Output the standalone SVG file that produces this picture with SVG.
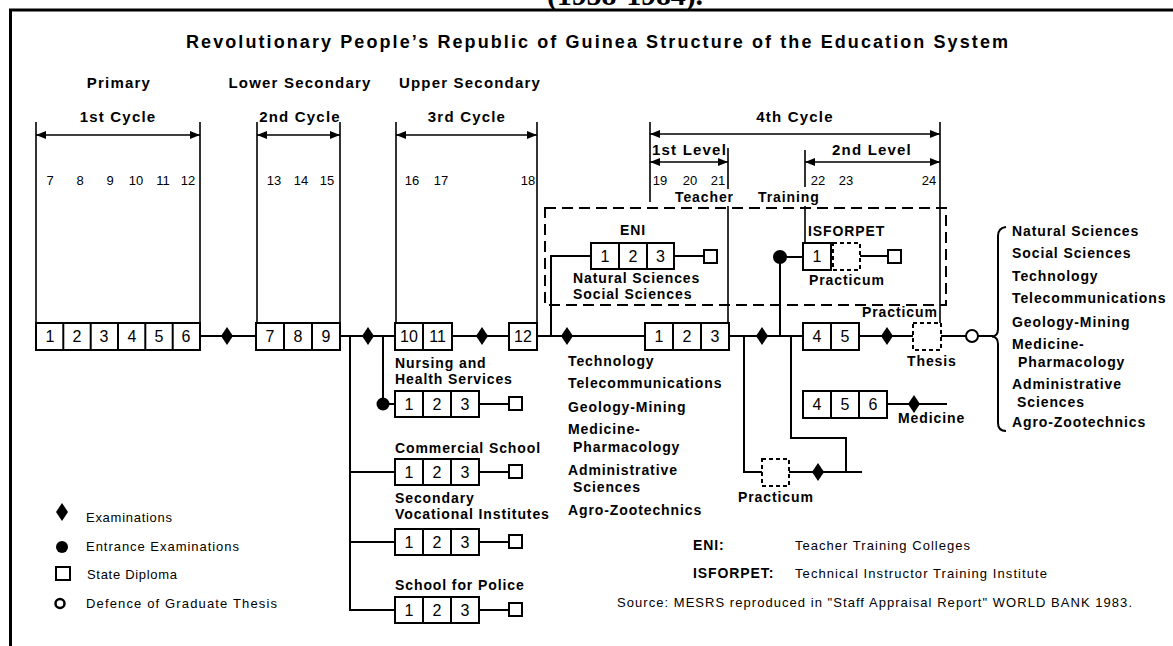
<svg xmlns="http://www.w3.org/2000/svg" width="1173" height="646" viewBox="0 0 1173 646">
<style>
text{font-family:"Liberation Sans",Arial,sans-serif;fill:#000}
.h{font-size:15px;font-weight:bold;letter-spacing:1.2px}
.n{font-size:13px}
.l{font-size:14px;font-weight:bold;letter-spacing:0.9px}
.g{font-size:13px;letter-spacing:1px}
.d{font-size:16px;text-anchor:middle}
.c{fill:#fff;stroke:#000;stroke-width:2}
.dc{fill:#fff;stroke:#000;stroke-width:2;stroke-dasharray:4 3}
.ln{fill:none;stroke:#000;stroke-width:2}
.th{fill:none;stroke:#000;stroke-width:1.6}
</style>
<defs>
<marker id="ah" viewBox="0 0 10 8" refX="10" refY="4" markerWidth="10" markerHeight="8" markerUnits="userSpaceOnUse" orient="auto-start-reverse"><path d="M0,0 L10,4 L0,8 Z" fill="#000"/></marker>
<path id="dia" d="M0,-9 L6,0 L0,9 L-6,0 Z" fill="#000"/>
</defs>
<rect width="1173" height="646" fill="#fff"/>
<text x="547" y="5" style="font-family:'Liberation Serif',serif;font-size:30px;font-weight:bold" textLength="156">(1958-1984).</text>
<path d="M10.5,646 V10 H1173" fill="none" stroke="#000" stroke-width="3"/>
<text x="186" y="48" style="font-size:18px;font-weight:bold" textLength="822">Revolutionary People’s Republic of Guinea Structure of the Education System</text>

<g id="headers">
<text class="h" x="119" y="88" text-anchor="middle">Primary</text>
<text class="h" x="300" y="88" text-anchor="middle">Lower Secondary</text>
<text class="h" x="470" y="88" text-anchor="middle">Upper Secondary</text>
<text class="h" x="118" y="122" text-anchor="middle">1st Cycle</text>
<text class="h" x="300" y="122" text-anchor="middle">2nd Cycle</text>
<text class="h" x="467" y="122" text-anchor="middle">3rd Cycle</text>
<text class="h" x="795" y="122" text-anchor="middle">4th Cycle</text>
<text class="h" x="652" y="155" letter-spacing="0.6">1st Level</text>
<text class="h" x="832" y="155">2nd Level</text>
</g>
<g id="ages" class="n" text-anchor="middle">
<text class="n" x="50" y="185" text-anchor="middle">7</text>
<text class="n" x="80" y="185" text-anchor="middle">8</text>
<text class="n" x="110" y="185" text-anchor="middle">9</text>
<text class="n" x="136" y="185" text-anchor="middle">10</text>
<text class="n" x="163" y="185" text-anchor="middle">11</text>
<text class="n" x="188" y="185" text-anchor="middle">12</text>
<text class="n" x="274" y="185" text-anchor="middle">13</text>
<text class="n" x="301" y="185" text-anchor="middle">14</text>
<text class="n" x="327" y="185" text-anchor="middle">15</text>
<text class="n" x="412" y="185" text-anchor="middle">16</text>
<text class="n" x="441" y="185" text-anchor="middle">17</text>
<text class="n" x="528" y="185" text-anchor="middle">18</text>
<text class="n" x="660" y="185" text-anchor="middle">19</text>
<text class="n" x="690" y="185" text-anchor="middle">20</text>
<text class="n" x="718" y="185" text-anchor="middle">21</text>
<text class="n" x="818" y="185" text-anchor="middle">22</text>
<text class="n" x="846" y="185" text-anchor="middle">23</text>
<text class="n" x="929" y="185" text-anchor="middle">24</text>
</g>

<g id="connectors">
<path class="th" d="M36,122 V323 M200,122 V323 M257,122 V323 M340,122 V323 M396,122 V323 M537,122 V323 M650,122 V202 M940,122 V323 M728,148 V189 M728,206 V323 M805,150 V187 M805,206 V243"/>
<path class="th" d="M36,135 H200" marker-start="url(#ah)" marker-end="url(#ah)"/>
<path class="th" d="M257,135 H340" marker-start="url(#ah)" marker-end="url(#ah)"/>
<path class="th" d="M396,135 H537" marker-start="url(#ah)" marker-end="url(#ah)"/>
<path class="th" d="M650,134 H940" marker-start="url(#ah)" marker-end="url(#ah)"/>
<path class="th" d="M650,162 H728" marker-start="url(#ah)" marker-end="url(#ah)"/>
<path class="th" d="M805,162 H940" marker-start="url(#ah)" marker-end="url(#ah)"/>
<rect x="545" y="208" width="401" height="97" fill="none" stroke="#000" stroke-width="2" stroke-dasharray="11 6"/>
<path class="ln" d="M200,336 H256 M340,336 H395 M452,336 H509 M537,336 H645 M729,336 H803 M859,336 H913 M941,336 H966 M978,336 H993"/>
<path class="ln" d="M350,336 V610 H395 M350,472 H395 M350,542 H395"/>
<path class="ln" d="M383,336 V404 H395 M479,404 H509 M479,472 H509 M479,542 H509 M479,610 H509"/>
<path class="ln" d="M551,336 V256 H591 M674,256 H704"/>
<path class="ln" d="M780,336 V257 H803 M860,256 H888"/>
<path class="ln" d="M744,336 V472 H762 M789,472 H862 M791,336 V438 H846 V472 M887,404 H947"/>
<path class="ln" d="M1006,227 Q998,228 998,236 V329 Q998,336 992,336.5 Q998,337 998,344 V423 Q998,431 1006,431"/>
</g>

<g id="markers">
<use href="#dia" x="227" y="336"/>
<use href="#dia" x="368" y="336"/>
<use href="#dia" x="482" y="336"/>
<use href="#dia" x="567" y="336"/>
<use href="#dia" x="762" y="336"/>
<use href="#dia" x="887" y="336"/>
<use href="#dia" x="914" y="404"/>
<use href="#dia" x="818" y="472"/>
<circle cx="383" cy="404" r="6.5" fill="#000"/>
<circle cx="780" cy="257" r="7" fill="#000"/>
<circle cx="972" cy="336" r="6" fill="#fff" stroke="#000" stroke-width="2"/>
</g>

<g id="primary">
<rect class="c" x="36" y="323" width="164" height="27"/>
<path class="ln" d="M63.3,323 V350 M90.7,323 V350 M118,323 V350 M145.3,323 V350 M172.7,323 V350"/>
<text class="d" x="50" y="342">1</text><text class="d" x="77" y="342">2</text><text class="d" x="104" y="342">3</text><text class="d" x="132" y="342">4</text><text class="d" x="159" y="342">5</text><text class="d" x="186" y="342">6</text>
</g>
<g id="lower-secondary">
<rect class="c" x="256" y="323" width="84" height="27"/>
<path class="ln" d="M284,323 V350 M312,323 V350"/>
<text class="d" x="270" y="342">7</text><text class="d" x="298" y="342">8</text><text class="d" x="326" y="342">9</text>
</g>
<g id="upper-secondary">
<rect class="c" x="395" y="323" width="57" height="27"/>
<path class="ln" d="M423,323 V350"/>
<text class="d" x="409" y="342">10</text><text class="d" x="437.5" y="342">11</text>
<rect class="c" x="509" y="323" width="28" height="27"/>
<text class="d" x="523" y="342">12</text>
</g>
<g id="level1">
<rect class="c" x="645" y="323" width="84" height="27"/>
<path class="ln" d="M673,323 V350 M701,323 V350"/>
<text class="d" x="659" y="342">1</text><text class="d" x="687" y="342">2</text><text class="d" x="715" y="342">3</text>
<text class="l" x="568" y="366">Technology</text>
<text class="l" x="568" y="388">Telecommunications</text>
<text class="l" x="568" y="412">Geology-Mining</text>
<text class="l" x="568" y="434">Medicine-</text>
<text class="l" x="573" y="452">Pharmacology</text>
<text class="l" x="568" y="475">Administrative</text>
<text class="l" x="573" y="492">Sciences</text>
<text class="l" x="568" y="515">Agro-Zootechnics</text>
</g>
<g id="level2">
<rect class="c" x="803" y="323" width="56" height="27"/>
<path class="ln" d="M831,323 V350"/>
<text class="d" x="817" y="342">4</text><text class="d" x="845" y="342">5</text>
<rect class="dc" x="913" y="323" width="28" height="27"/>
<text class="l" x="862" y="317">Practicum</text>
<text class="l" x="907" y="366">Thesis</text>
</g>
<g id="medicine">
<rect class="c" x="803" y="391" width="84" height="27"/>
<path class="ln" d="M831,391 V418 M859,391 V418"/>
<text class="d" x="817" y="410">4</text><text class="d" x="845" y="410">5</text><text class="d" x="873" y="410">6</text>
<text class="l" x="898" y="423">Medicine</text>
</g>
<g id="practicum-bottom">
<rect class="dc" x="762" y="459" width="27" height="27"/>
<text class="l" x="738" y="502">Practicum</text>
</g>
<g id="eni">
<text class="l" x="633" y="235" text-anchor="middle">ENI</text>
<rect class="c" x="591" y="243" width="83" height="26"/>
<path class="ln" d="M619,243 V269 M647,243 V269"/>
<text class="d" x="605" y="262">1</text><text class="d" x="633" y="262">2</text><text class="d" x="660.5" y="262">3</text>
<rect class="c" x="704" y="250" width="13" height="13"/>
<text class="l" x="573" y="283">Natural Sciences</text>
<text class="l" x="573" y="299">Social Sciences</text>
<text class="l" x="675" y="202">Teacher</text>
<text class="l" x="758" y="202">Training</text>
</g>
<g id="isforpet">
<text class="l" x="808" y="236">ISFORPET</text>
<rect class="c" x="803" y="243" width="28" height="27"/>
<text class="d" x="817" y="262">1</text>
<rect class="dc" x="833" y="243" width="27" height="27"/>
<rect class="c" x="888" y="250" width="13" height="13"/>
<text class="l" x="809" y="285">Practicum</text>
</g>
<g id="nursing">
<text class="l" x="395" y="368">Nursing and</text>
<text class="l" x="395" y="384">Health Services</text>
<rect class="c" x="395" y="391" width="84" height="26"/>
<path class="ln" d="M423,391 V417 M451,391 V417"/>
<text class="d" x="409" y="410">1</text><text class="d" x="437" y="410">2</text><text class="d" x="465" y="410">3</text>
<rect class="c" x="509" y="397" width="13" height="13"/>
</g>
<g id="commercial">
<text class="l" x="395" y="453">Commercial School</text>
<rect class="c" x="395" y="459" width="84" height="26"/>
<path class="ln" d="M423,459 V485 M451,459 V485"/>
<text class="d" x="409" y="478">1</text><text class="d" x="437" y="478">2</text><text class="d" x="465" y="478">3</text>
<rect class="c" x="509" y="465" width="13" height="13"/>
</g>
<g id="vocational">
<text class="l" x="395" y="503">Secondary</text>
<text class="l" x="395" y="519">Vocational Institutes</text>
<rect class="c" x="395" y="529" width="84" height="26"/>
<path class="ln" d="M423,529 V555 M451,529 V555"/>
<text class="d" x="409" y="548">1</text><text class="d" x="437" y="548">2</text><text class="d" x="465" y="548">3</text>
<rect class="c" x="509" y="535" width="13" height="13"/>
</g>
<g id="police">
<text class="l" x="395" y="590">School for Police</text>
<rect class="c" x="395" y="597" width="84" height="26"/>
<path class="ln" d="M423,597 V623 M451,597 V623"/>
<text class="d" x="409" y="616">1</text><text class="d" x="437" y="616">2</text><text class="d" x="465" y="616">3</text>
<rect class="c" x="509" y="603" width="13" height="13"/>
</g>
<g id="fields">
<text class="l" x="1012" y="236">Natural Sciences</text>
<text class="l" x="1012" y="258">Social Sciences</text>
<text class="l" x="1012" y="281">Technology</text>
<text class="l" x="1012" y="303">Telecommunications</text>
<text class="l" x="1012" y="327">Geology-Mining</text>
<text class="l" x="1012" y="349">Medicine-</text>
<text class="l" x="1018" y="367">Pharmacology</text>
<text class="l" x="1012" y="389">Administrative</text>
<text class="l" x="1017" y="407">Sciences</text>
<text class="l" x="1012" y="427">Agro-Zootechnics</text>
</g>
<g id="legend">
<use href="#dia" x="62" y="512"/>
<text class="g" x="86" y="522" textLength="87">Examinations</text>
<circle cx="62" cy="547" r="6" fill="#000"/>
<text class="g" x="86" y="551" textLength="154">Entrance Examinations</text>
<rect x="56" y="567" width="14" height="13" fill="#fff" stroke="#000" stroke-width="2"/>
<text class="g" x="87" y="579" textLength="91">State Diploma</text>
<circle cx="60" cy="603.5" r="4.5" fill="none" stroke="#000" stroke-width="2.5"/>
<text class="g" x="86" y="608" textLength="192">Defence of Graduate Thesis</text>
</g>
<g id="abbreviations">
<text class="l" x="693" y="550">ENI:</text>
<text class="g" x="795" y="550" textLength="176">Teacher Training Colleges</text>
<text class="l" x="693" y="578">ISFORPET:</text>
<text class="g" x="795" y="578" textLength="253">Technical Instructor Training Institute</text>
<text class="g" x="617" y="607" textLength="516">Source: MESRS reproduced in "Staff Appraisal Report" WORLD BANK 1983.</text>
</g>
</svg>
